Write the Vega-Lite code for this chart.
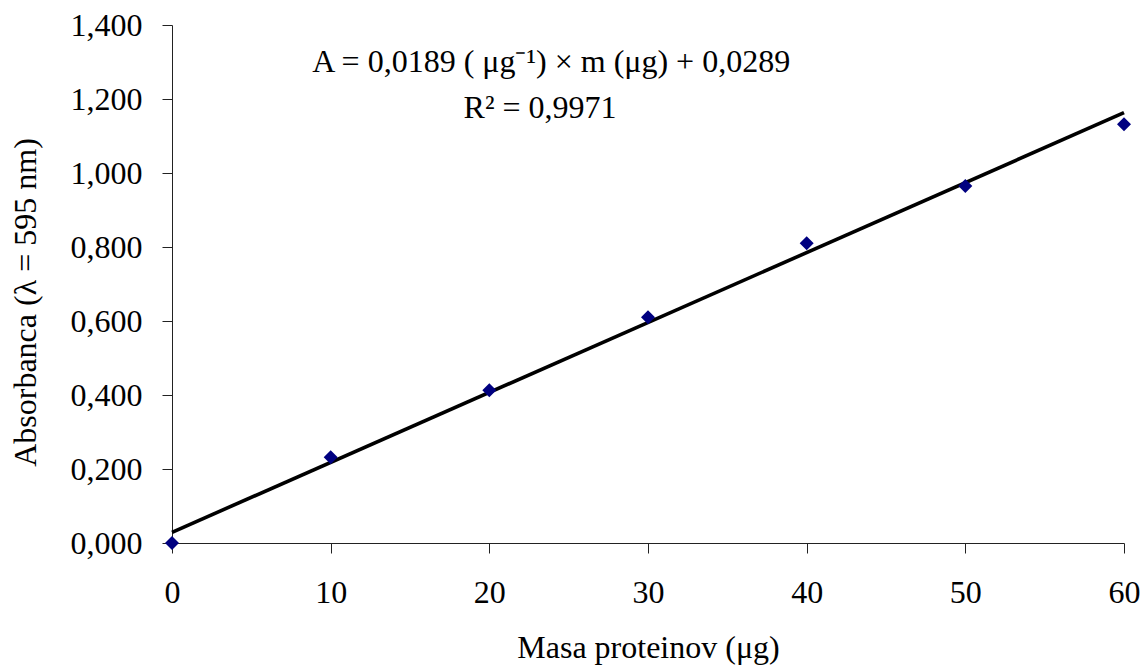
{
  "$schema": "https://vega.github.io/schema/vega-lite/v6.json",
  "width": 952,
  "height": 518,
  "autosize": "none",
  "padding": {"left": 172, "top": 25, "right": 19, "bottom": 124},
  "background": "white",
  "config": {
    "view": {"stroke": null},
    "font": "Liberation Serif",
    "axis": {
      "labelFont": "Liberation Serif",
      "titleFont": "Liberation Serif",
      "labelFontSize": 32,
      "titleFontSize": 32,
      "titleFontWeight": "normal",
      "labelColor": "black",
      "titleColor": "black",
      "domainColor": "#222222",
      "tickColor": "#222222",
      "tickSize": 10,
      "grid": false
    }
  },
  "datasets": {
    "points": [
      {"masa": 0, "abs": 0.0},
      {"masa": 10, "abs": 0.232},
      {"masa": 20, "abs": 0.413},
      {"masa": 30, "abs": 0.610},
      {"masa": 40, "abs": 0.810},
      {"masa": 50, "abs": 0.965},
      {"masa": 60, "abs": 1.132}
    ],
    "trend": [
      {"masa": 0, "abs": 0.0289},
      {"masa": 60, "abs": 1.1629}
    ],
    "notes": [
      {"masa": 23.9, "abs": 1.273, "text": "A = 0,0189 ( μg⁻¹) × m (μg) + 0,0289"},
      {"masa": 23.2, "abs": 1.149, "text": "R² = 0,9971"}
    ]
  },
  "layer": [
    {
      "data": {"name": "trend"},
      "mark": {"type": "line", "color": "black", "strokeWidth": 3.6, "clip": false},
      "encoding": {
        "x": {
          "field": "masa", "type": "quantitative",
          "scale": {"domain": [0, 60], "nice": false},
          "axis": {
            "title": "Masa proteinov (μg)",
            "values": [0, 10, 20, 30, 40, 50, 60],
            "labelPadding": 24,
            "labelFlush": false,
            "titleBaseline": "alphabetic",
            "titleY": 114
          }
        },
        "y": {
          "field": "abs", "type": "quantitative",
          "scale": {"domain": [0, 1.4], "nice": false, "zero": true},
          "axis": {
            "title": "Absorbanca (λ = 595 nm)",
            "values": [0, 0.2, 0.4, 0.6, 0.8, 1.0, 1.2, 1.4],
            "labelExpr": "replace(format(datum.value, '.3f'), '.', ',')",
            "labelPadding": 20,
            "labelFlush": false,
            "titleBaseline": "alphabetic",
            "titleX": -137,
            "titleY": 277
          }
        }
      }
    },
    {
      "data": {"name": "points"},
      "mark": {"type": "point", "shape": "diamond", "filled": true, "color": "#000080", "opacity": 1, "size": 196, "clip": false},
      "encoding": {
        "x": {"field": "masa", "type": "quantitative"},
        "y": {"field": "abs", "type": "quantitative"}
      }
    },
    {
      "data": {"name": "notes"},
      "mark": {"type": "text", "font": "Liberation Serif", "fontSize": 32, "color": "black", "align": "center", "baseline": "alphabetic"},
      "encoding": {
        "x": {"field": "masa", "type": "quantitative"},
        "y": {"field": "abs", "type": "quantitative"},
        "text": {"field": "text"}
      }
    }
  ]
}
